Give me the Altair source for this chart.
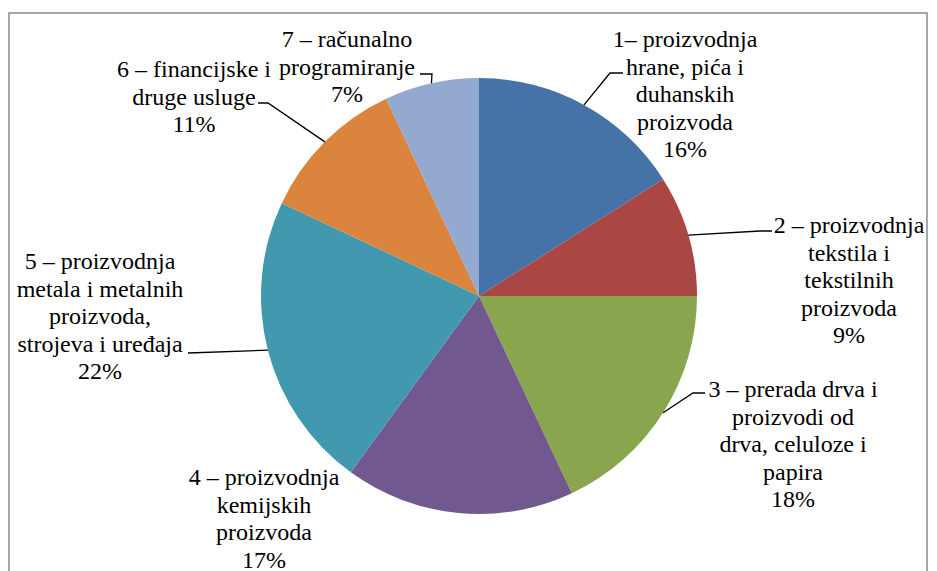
import math
import altair as alt
import pandas as pd

# ---- data ----
slice_ids = [1, 2, 3, 4, 5, 6, 7]
values = [16, 9, 18, 17, 22, 11, 7]
label_lines = [
    ["1– proizvodnja", "hrane, pića i", "duhanskih", "proizvoda"],
    ["2 – proizvodnja", "tekstila i", "tekstilnih", "proizvoda"],
    ["3 – prerada drva i", "proizvodi od", "drva, celuloze i", "papira"],
    ["4 – proizvodnja", "kemijskih", "proizvoda"],
    ["5 – proizvodnja", "metala i metalnih", "proizvoda,", "strojeva i uređaja"],
    ["6 – financijske i", "druge usluge"],
    ["7 – računalno", "programiranje"],
]
colors = ["#4572A7", "#AA4643", "#89A54E", "#71588F", "#4198AF", "#DB843D", "#93A9CF"]

# ---- layout (chart coordinates) ----
W, H = 921, 563
CX, CY, R = 471, 288, 218
FONT = "Liberation Serif"
label_anchor = {1: (677, 39), 2: (841, 225), 3: (785, 389), 4: (256, 477),
                5: (92, 261), 6: (186, 69), 7: (339, 39)}
leader_path = {1: [(602, 65), (615, 65)], 2: [(752, 223), (764, 223)],
               3: [(685, 385), (697, 385)], 5: [(180, 345)],
               6: [(260, 95), (250, 95)], 7: [(424, 66), (412, 66)]}

names = [" ".join(l) for l in label_lines]
pie_df = pd.DataFrame({"id": slice_ids, "name": names, "value": values})

total = sum(values)
lab_rows, lead_rows = [], []
cum = 0
for sid, v, lines in zip(slice_ids, values, label_lines):
    mid = (cum + v / 2) / total
    cum += v
    ax, ay = label_anchor[sid]
    lab_rows.append({"id": sid, "x": ax, "y": ay, "text": lines + [f"{v}%"]})
    if sid in leader_path:
        ex = CX + R * math.sin(2 * math.pi * mid)
        ey = CY - R * math.cos(2 * math.pi * mid)
        pts = [(ex, ey)] + leader_path[sid]
        for k, (px, py) in enumerate(pts):
            lead_rows.append({"id": sid, "step": k, "x": px, "y": py})
lab_df = pd.DataFrame(lab_rows)
lead_df = pd.DataFrame(lead_rows)

xs = alt.Scale(domain=[0, W], range=[0, W])
ys = alt.Scale(domain=[0, H], range=[0, H])

frame = alt.Chart(pd.DataFrame({"a": [0]})).mark_rect(
    fill=None, stroke="#8c8c8c", strokeWidth=1.5
).encode(x=alt.value(1), x2=alt.value(919), y=alt.value(5), y2=alt.value(H + 30))

pie = alt.Chart(pie_df).mark_arc(radius=R).encode(
    theta=alt.Theta("value:Q", stack=True),
    order=alt.Order("id:Q"),
    color=alt.Color("name:N", scale=alt.Scale(domain=names, range=colors), legend=None),
    x=alt.value(CX), y=alt.value(CY),
)

leaders = alt.Chart(lead_df).mark_line(color="black", strokeWidth=1.3).encode(
    x=alt.X("x:Q", scale=xs, axis=None),
    y=alt.Y("y:Q", scale=ys, axis=None),
    detail="id:N",
    order="step:Q",
)

labels = alt.Chart(lab_df).mark_text(
    font=FONT, fontSize=24, lineHeight=27.6, align="center", baseline="alphabetic", color="black"
).encode(
    x=alt.X("x:Q", scale=xs, axis=None),
    y=alt.Y("y:Q", scale=ys, axis=None),
    text="text",
)

chart = alt.layer(frame, pie, leaders, labels).properties(
    width=W, height=H, padding=0, autosize=alt.AutoSizeParams(type="none")
).configure(background="white").configure_view(stroke=None)

chart.save("out.html", embed_options={"renderer": "svg", "actions": False})
